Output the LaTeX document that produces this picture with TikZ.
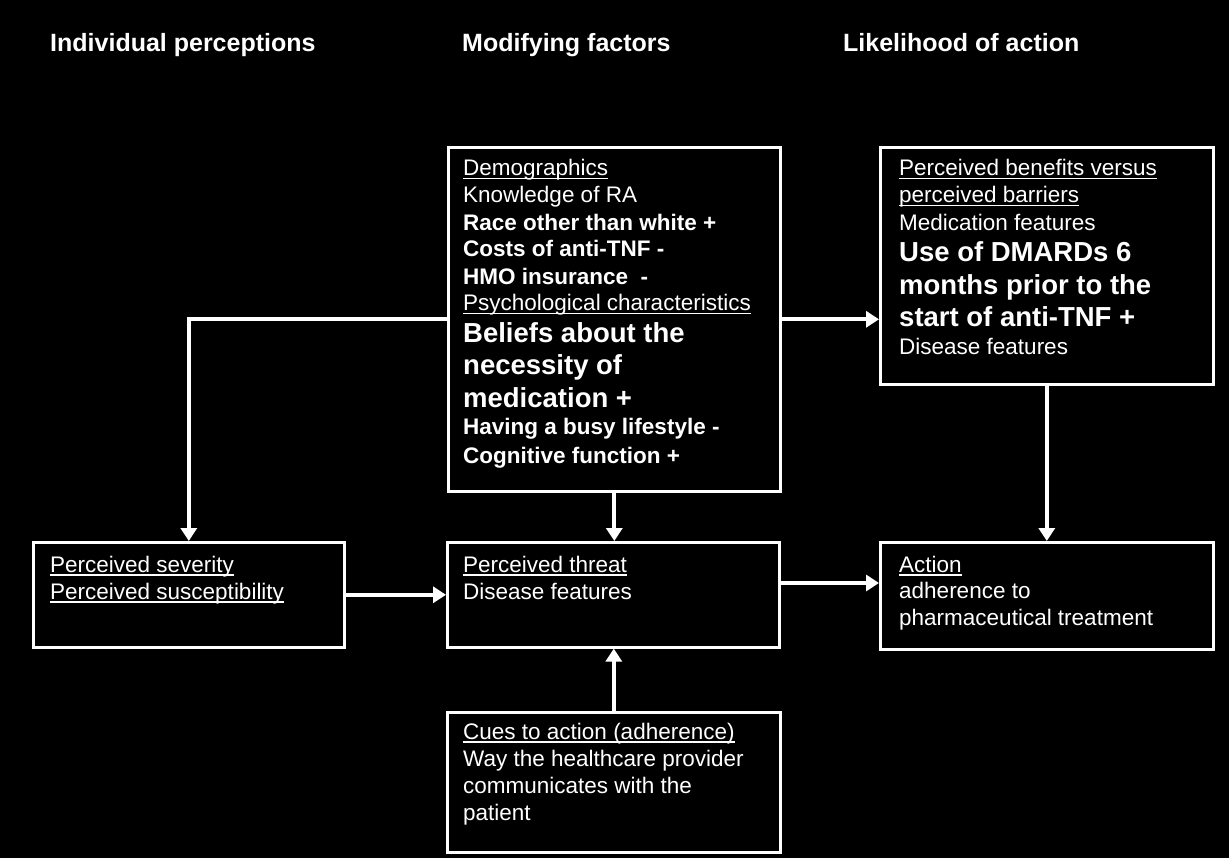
\documentclass[tikz,border=0pt]{standalone}
\usepackage{fontspec}
\setmainfont{Liberation Sans}
\usetikzlibrary{arrows.meta}
\newcommand\myul[1]{\setbox0\hbox{#1}\rlap{\rule[-3.5pt]{\wd0}{1.6pt}}\box0}
\begin{document}
\begin{tikzpicture}[x=1pt,y=-1pt,
 box/.style={draw=white,line width=2.6pt,anchor=north west,inner sep=0pt},
 txt/.style={text=white,anchor=base west,inner sep=0pt,font=\fontsize{22.5}{26}\selectfont},
 btxt/.style={txt,font=\fontsize{22.5}{26}\selectfont\bfseries},
 big/.style={txt,font=\fontsize{27.5}{32}\selectfont\bfseries},
 head/.style={txt,font=\fontsize{25}{30}\selectfont\bfseries},
 arr/.style={draw=white,line width=4pt,-{Triangle[length=13pt,width=16pt]}}]
\fill[black] (0,0) rectangle (1229,858);
\useasboundingbox (0,0) rectangle (1229,858);
% headers
\node[head] (h1) at (50,52) {Individual perceptions};
\node[head] (h2) at (462,52) {Modifying factors};
\node[head] (h3) at (843,52) {Likelihood of action};
% boxes
\node[box,minimum width=332pt,minimum height=344pt] (demo) at (447,146) {};
\node[box,minimum width=333pt,minimum height=237pt] (ben) at (879,146) {};
\node[box,minimum width=311pt,minimum height=105pt] (sev) at (32,541) {};
\node[box,minimum width=332pt,minimum height=105pt] (thr) at (446,541) {};
\node[box,minimum width=333pt,minimum height=107pt] (act) at (879,541) {};
\node[box,minimum width=333pt,minimum height=140pt] (cue) at (446,711) {};
% demographics text
\node[txt] (d1) at (463,176) {\myul{Demographics}};
\node[txt] (d2) at (463,203) {Knowledge of RA};
\node[btxt] (d3) at (463,231) {Race other than white +};
\node[btxt] (d4) at (463,257) {Costs of anti-TNF -};
\node[btxt] (d5) at (463,285) {HMO insurance\ \ -};
\node[txt] (d6) at (463,311) {\myul{Psychological characteristics}};
\node[big] (d7) at (463,343) {Beliefs about the};
\node[big] (d8) at (463,375) {necessity of};
\node[big] (d9) at (463,407) {medication +};
\node[btxt] (d10) at (463,435) {Having a busy lifestyle -};
\node[btxt] (d11) at (463,463) {Cognitive function +};
% benefits text
\node[txt] (b1) at (899,176) {\myul{Perceived benefits versus}};
\node[txt] (b2) at (899,203) {\myul{perceived barriers}};
\node[txt] (b3) at (899,231) {Medication features};
\node[big] (b4) at (899,262) {Use of DMARDs 6};
\node[big] (b5) at (899,295) {months prior to the};
\node[big] (b6) at (899,327) {start of anti-TNF +};
\node[txt] (b7) at (899,355) {Disease features};
% severity
\node[txt] (s1) at (50,572) {\myul{Perceived severity}};
\node[txt] (s2) at (50,599) {\myul{Perceived susceptibility}};
% threat
\node[txt] (p1) at (463,572) {\myul{Perceived threat}};
\node[txt] (p2) at (463,599) {Disease features};
% action
\node[txt] (a1) at (899,572) {\myul{Action}};
\node[txt] (a2) at (899,598) {adherence to};
\node[txt] (a3) at (899,625) {pharmaceutical treatment};
% cues
\node[txt] (c1) at (463,739) {\myul{Cues to action (adherence)}};
\node[txt] (c2) at (463,766) {Way the healthcare provider};
\node[txt] (c3) at (463,793) {communicates with the};
\node[txt] (c4) at (463,820) {patient};
% connectors
\draw[arr] (demo.west) -| (sev.north);
\draw[arr] (demo.east) -- (demo.east -| ben.west);
\draw[arr] (demo.south) -- (demo.south |- thr.north);
\draw[arr] (ben.south) -- (ben.south |- act.north);
\draw[arr] (sev.east) -- (sev.east -| thr.west);
\draw[arr] ([yshift=-42pt]thr.north east) -- ([yshift=-42pt]thr.north east -| act.west);
\draw[arr] (cue.north) -- (cue.north |- thr.south);
\end{tikzpicture}
\end{document}
